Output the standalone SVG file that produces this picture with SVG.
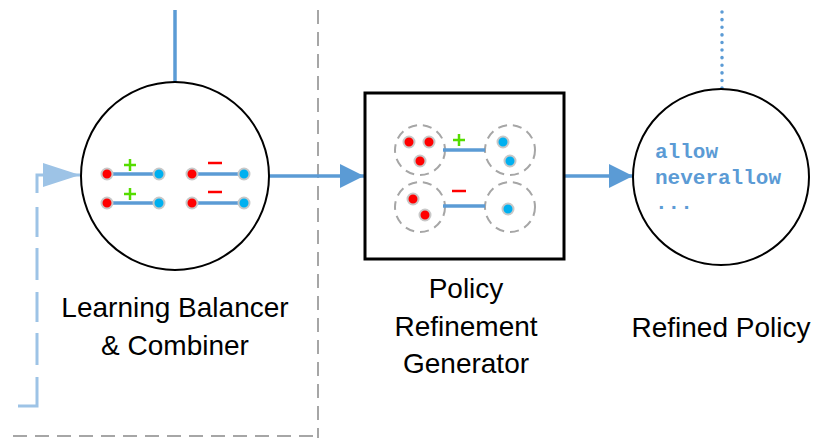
<svg xmlns="http://www.w3.org/2000/svg" width="813" height="438" viewBox="0 0 813 438">
<style>
.lbl{font-family:"Liberation Sans",Arial,sans-serif;font-size:28px;fill:#000;text-anchor:middle}
.code{font-family:"Liberation Mono","Courier New",monospace;font-weight:bold;font-size:21px;fill:#5b9bd5}
.node{fill:#fff;stroke:#000;stroke-width:2}
.r{fill:#ff0000;stroke:#c8c8c8;stroke-width:2}
.b{fill:#00b0f0;stroke:#c8c8c8;stroke-width:2}
.link{stroke:#5b9bd5;stroke-width:3.5;fill:none}
.fb{stroke:#9dc3e6;stroke-width:3;fill:none}
.plus{stroke:#55dd00;stroke-width:2.5;fill:none}
.minus{stroke:#ff0000;stroke-width:2.5;fill:none}
.grp{fill:none;stroke:#a6a6a6;stroke-width:2;stroke-dasharray:9 6}
.sep{stroke:#a6a6a6;stroke-width:2;stroke-dasharray:14 8;fill:none}
</style>
<defs>
<marker id="ah" markerUnits="userSpaceOnUse" markerWidth="26" markerHeight="26" refX="24" refY="12" orient="auto"><path d="M0,0 L24,12 L0,24 Z" fill="#5b9bd5"/></marker>
<marker id="ahl" markerUnits="userSpaceOnUse" markerWidth="40" markerHeight="28" refX="37" refY="12" orient="auto"><path d="M0,0 L37,12 L0,24 Z" fill="#9dc3e6"/></marker>
</defs>
<g id="connectors">
<line x1="318" y1="10" x2="318" y2="438" class="sep"/>
<line x1="13" y1="436" x2="318" y2="436" class="sep"/>
<line x1="175" y1="10" x2="175" y2="82" class="link"/>
<path d="M18,406 H37 V377 M37,365 V333 M37,322 V292 M37,280 V248 M37,237 V207 M37,193 V175 H44" class="fb"/>
<line x1="43" y1="175" x2="80" y2="175" class="fb" marker-end="url(#ahl)"/>
<line x1="269" y1="176" x2="364" y2="176" class="link" marker-end="url(#ah)"/>
<line x1="564" y1="176" x2="633" y2="176" class="link" marker-end="url(#ah)"/>
<line x1="722" y1="12" x2="722" y2="89" stroke="#5b9bd5" stroke-width="3.5" stroke-linecap="round" stroke-dasharray="0.1 7.5"/>
</g>
<g id="balancer">
<circle cx="175" cy="176" r="94" class="node"/>
<line x1="107" y1="174" x2="159" y2="174" class="link"/>
<line x1="107" y1="203" x2="159" y2="203" class="link"/>
<line x1="192" y1="174" x2="244" y2="174" class="link"/>
<line x1="192" y1="203" x2="244" y2="203" class="link"/>
<circle cx="107" cy="174" r="5.5" class="r"/><circle cx="159" cy="174" r="5.5" class="b"/>
<circle cx="107" cy="203" r="5.5" class="r"/><circle cx="159" cy="203" r="5.5" class="b"/>
<circle cx="192" cy="174" r="5.5" class="r"/><circle cx="244" cy="174" r="5.5" class="b"/>
<circle cx="192" cy="203" r="5.5" class="r"/><circle cx="244" cy="203" r="5.5" class="b"/>
<path d="M124,165 H136 M130,159 V171" class="plus"/>
<path d="M124,194 H136 M130,188 V200" class="plus"/>
<path d="M208,163 H222" class="minus"/>
<path d="M208,192 H222" class="minus"/>
<text x="175" y="317" class="lbl">Learning Balancer</text>
<text x="175" y="355" class="lbl">&amp; Combiner</text>
</g>
<g id="generator">
<rect x="365" y="93" width="199" height="166" fill="#fff" stroke="#000" stroke-width="3"/>
<circle cx="420" cy="150" r="25" class="grp"/>
<circle cx="510" cy="150" r="25" class="grp"/>
<circle cx="420" cy="207" r="25" class="grp"/>
<circle cx="510" cy="207" r="25" class="grp"/>
<line x1="443" y1="150" x2="485" y2="150" class="link"/>
<line x1="443" y1="206" x2="485" y2="206" class="link"/>
<circle cx="409" cy="142" r="5.5" class="r"/><circle cx="429" cy="142" r="5.5" class="r"/><circle cx="420" cy="161" r="5.5" class="r"/>
<circle cx="503" cy="142" r="5.5" class="b"/><circle cx="510" cy="161" r="5.5" class="b"/>
<circle cx="413" cy="199" r="5.5" class="r"/><circle cx="425" cy="215" r="5.5" class="r"/>
<circle cx="508" cy="209" r="5.5" class="b"/>
<path d="M453,140 H465 M459,134 V146" class="plus"/>
<path d="M452,191 H466" class="minus"/>
<text x="466" y="298" class="lbl">Policy</text>
<text x="466" y="336" class="lbl">Refinement</text>
<text x="466" y="373" class="lbl">Generator</text>
</g>
<g id="refined">
<circle cx="721" cy="177" r="88" class="node"/>
<text x="655" y="158" class="code">allow</text>
<text x="655" y="184" class="code">neverallow</text>
<text x="655" y="209" class="code">...</text>
<text x="721" y="337" class="lbl">Refined Policy</text>
</g>
</svg>
